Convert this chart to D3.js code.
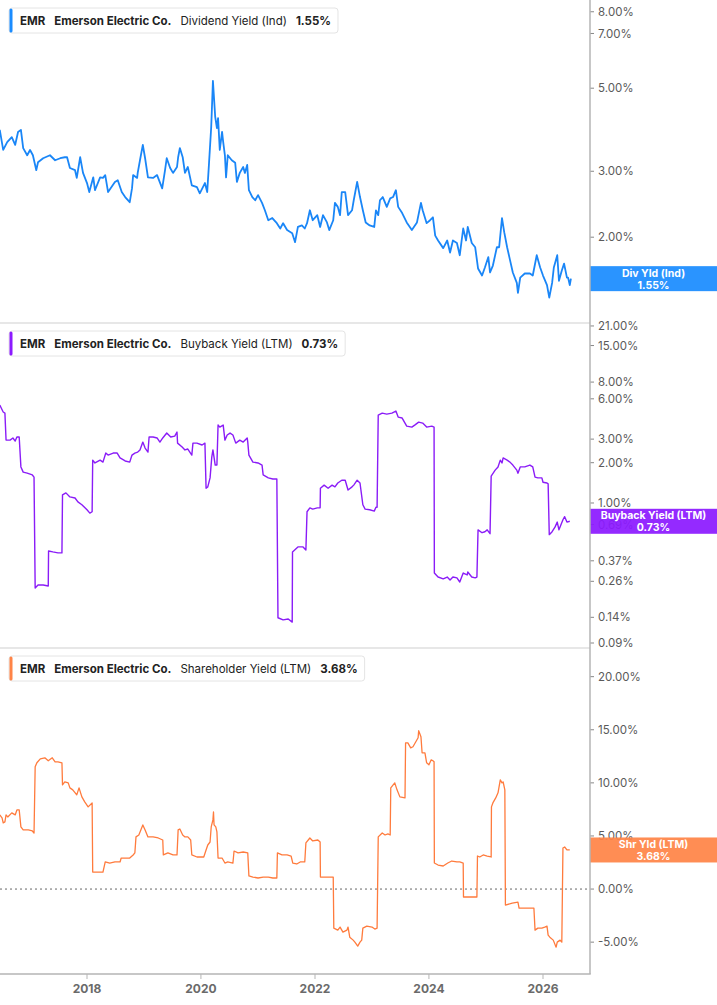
<!DOCTYPE html>
<html>
<head>
<meta charset="utf-8">
<script src="https://cdn.jsdelivr.net/npm/d3@7"></script>
<style>
body { margin: 0; background: #fff; }
svg { display: block; font-family: Inter, 'Noto Sans', sans-serif; }
</style>
</head>
<body>
<div id="chart"></div>
<script>
// [decimal year, value in %]
const divYield = [[2016.47,3.87],[2016.53,3.42],[2016.60,3.59],[2016.68,3.70],[2016.74,3.53],[2016.79,3.82],[2016.84,3.87],[2016.88,3.46],[2016.95,3.31],[2017.00,3.42],[2017.05,3.31],[2017.11,3.02],[2017.14,3.17],[2017.23,3.25],[2017.35,3.31],[2017.44,3.21],[2017.53,3.25],[2017.61,3.27],[2017.65,3.27],[2017.70,3.06],[2017.79,3.02],[2017.82,2.88],[2017.88,3.27],[2017.93,2.97],[2018.00,2.79],[2018.04,2.64],[2018.11,2.89],[2018.14,2.67],[2018.23,2.89],[2018.28,2.88],[2018.32,2.93],[2018.37,2.64],[2018.49,2.81],[2018.54,2.84],[2018.61,2.64],[2018.67,2.56],[2018.75,2.48],[2018.79,2.70],[2018.81,2.93],[2018.88,2.88],[2018.89,2.97],[2018.93,3.21],[2018.98,3.53],[2019.02,3.25],[2019.07,2.89],[2019.16,2.88],[2019.23,2.93],[2019.32,2.70],[2019.37,3.02],[2019.40,3.25],[2019.46,3.06],[2019.51,2.97],[2019.58,3.08],[2019.60,3.27],[2019.63,3.46],[2019.68,3.27],[2019.72,2.97],[2019.77,3.08],[2019.84,2.75],[2019.93,2.72],[2019.98,2.62],[2020.07,2.79],[2020.11,2.64],[2020.14,3.12],[2020.18,3.94],[2020.19,4.32],[2020.21,5.23],[2020.25,4.19],[2020.28,3.91],[2020.30,4.16],[2020.33,3.42],[2020.37,3.82],[2020.39,3.59],[2020.42,3.31],[2020.44,2.89],[2020.47,3.31],[2020.54,3.21],[2020.60,3.16],[2020.63,2.81],[2020.68,2.97],[2020.74,3.08],[2020.77,2.97],[2020.81,3.12],[2020.84,2.67],[2020.90,2.56],[2020.95,2.51],[2021.00,2.59],[2021.07,2.47],[2021.12,2.36],[2021.18,2.22],[2021.25,2.25],[2021.33,2.18],[2021.39,2.11],[2021.44,2.18],[2021.51,2.09],[2021.60,2.05],[2021.65,1.94],[2021.70,2.13],[2021.77,2.15],[2021.82,2.11],[2021.86,2.18],[2021.91,2.36],[2021.96,2.22],[2022.04,2.29],[2022.09,2.13],[2022.14,2.29],[2022.21,2.19],[2022.25,2.09],[2022.32,2.22],[2022.35,2.47],[2022.40,2.41],[2022.44,2.29],[2022.47,2.64],[2022.53,2.64],[2022.58,2.29],[2022.65,2.36],[2022.68,2.51],[2022.74,2.81],[2022.79,2.56],[2022.84,2.36],[2022.89,2.19],[2022.96,2.15],[2023.04,2.13],[2023.07,2.36],[2023.11,2.29],[2023.14,2.51],[2023.19,2.56],[2023.26,2.41],[2023.32,2.54],[2023.37,2.56],[2023.42,2.67],[2023.46,2.41],[2023.53,2.32],[2023.61,2.19],[2023.70,2.09],[2023.79,2.19],[2023.86,2.47],[2023.89,2.36],[2023.96,2.18],[2024.02,2.22],[2024.07,2.26],[2024.11,2.02],[2024.16,1.96],[2024.25,1.87],[2024.32,1.96],[2024.37,1.82],[2024.42,1.96],[2024.49,1.93],[2024.54,1.79],[2024.60,2.11],[2024.65,1.96],[2024.68,2.13],[2024.75,1.93],[2024.81,1.88],[2024.86,1.65],[2024.93,1.58],[2024.98,1.66],[2025.04,1.77],[2025.07,1.61],[2025.12,1.68],[2025.19,1.88],[2025.23,1.88],[2025.28,2.25],[2025.32,2.06],[2025.37,1.88],[2025.42,1.74],[2025.47,1.61],[2025.54,1.51],[2025.56,1.42],[2025.60,1.56],[2025.68,1.60],[2025.77,1.60],[2025.82,1.58],[2025.89,1.79],[2025.95,1.66],[2026.00,1.58],[2026.07,1.49],[2026.11,1.38],[2026.16,1.51],[2026.19,1.66],[2026.25,1.79],[2026.28,1.53],[2026.33,1.63],[2026.37,1.70],[2026.42,1.56],[2026.44,1.56],[2026.47,1.49],[2026.49,1.55]]

const buybackYield = [[2016.47,5.39],[2016.53,4.78],[2016.56,4.69],[2016.58,2.95],[2016.65,2.95],[2016.70,3.06],[2016.74,2.90],[2016.77,3.11],[2016.81,3.11],[2016.84,1.86],[2016.88,1.70],[2016.95,1.67],[2017.04,1.62],[2017.07,1.56],[2017.09,0.232],[2017.14,0.244],[2017.23,0.244],[2017.32,0.240],[2017.325,0.438],[2017.40,0.431],[2017.49,0.424],[2017.56,0.424],[2017.57,1.15],[2017.63,1.19],[2017.70,1.11],[2017.79,1.09],[2017.84,1.02],[2017.91,0.97],[2018.00,0.89],[2018.05,0.84],[2018.09,0.86],[2018.10,2.09],[2018.14,1.99],[2018.23,2.09],[2018.28,2.02],[2018.33,2.36],[2018.37,2.28],[2018.46,2.36],[2018.53,2.36],[2018.58,2.17],[2018.67,2.06],[2018.75,2.02],[2018.79,2.28],[2018.84,2.36],[2018.89,2.40],[2018.93,2.49],[2018.98,2.85],[2019.02,2.57],[2019.07,2.40],[2019.09,3.11],[2019.16,3.11],[2019.23,3.06],[2019.28,2.85],[2019.33,3.06],[2019.40,3.33],[2019.47,3.11],[2019.54,3.16],[2019.58,3.39],[2019.59,2.80],[2019.67,2.62],[2019.72,2.49],[2019.77,2.53],[2019.84,2.28],[2019.86,2.80],[2019.93,2.80],[2020.02,2.71],[2020.07,2.80],[2020.09,1.29],[2020.12,1.32],[2020.16,1.54],[2020.19,2.20],[2020.21,2.49],[2020.25,1.92],[2020.28,1.92],[2020.30,3.82],[2020.33,3.69],[2020.39,3.82],[2020.42,2.95],[2020.46,3.22],[2020.51,3.33],[2020.56,3.22],[2020.61,2.80],[2020.68,2.95],[2020.74,2.85],[2020.81,3.06],[2020.82,2.85],[2020.84,2.28],[2020.91,2.02],[2021.00,1.99],[2021.07,1.92],[2021.09,1.62],[2021.18,1.54],[2021.26,1.51],[2021.33,1.51],[2021.35,0.139],[2021.44,0.134],[2021.53,0.136],[2021.60,0.129],[2021.605,0.431],[2021.70,0.470],[2021.79,0.470],[2021.84,0.446],[2021.86,0.86],[2021.91,0.92],[2021.96,0.90],[2022.04,0.92],[2022.09,0.92],[2022.095,1.29],[2022.16,1.36],[2022.23,1.29],[2022.30,1.36],[2022.35,1.32],[2022.40,1.41],[2022.47,1.48],[2022.53,1.48],[2022.58,1.25],[2022.65,1.32],[2022.68,1.36],[2022.74,1.48],[2022.79,1.41],[2022.84,0.97],[2022.88,0.90],[2022.96,0.89],[2023.04,0.87],[2023.07,0.93],[2023.09,0.93],[2023.11,4.54],[2023.18,4.69],[2023.26,4.61],[2023.35,4.69],[2023.42,4.86],[2023.46,4.38],[2023.53,4.31],[2023.58,3.95],[2023.61,3.75],[2023.70,3.69],[2023.75,3.82],[2023.82,4.02],[2023.89,3.95],[2023.96,3.69],[2024.05,3.75],[2024.09,3.69],[2024.095,0.300],[2024.16,0.280],[2024.25,0.271],[2024.32,0.280],[2024.37,0.266],[2024.42,0.280],[2024.49,0.276],[2024.54,0.257],[2024.60,0.300],[2024.67,0.290],[2024.68,0.305],[2024.75,0.280],[2024.81,0.276],[2024.84,0.280],[2024.86,0.63],[2024.93,0.60],[2024.98,0.61],[2025.02,0.63],[2025.07,0.59],[2025.09,1.59],[2025.16,1.76],[2025.21,1.86],[2025.25,2.09],[2025.28,1.99],[2025.30,2.17],[2025.37,2.09],[2025.42,2.02],[2025.47,1.92],[2025.54,1.76],[2025.56,1.67],[2025.60,1.86],[2025.68,1.86],[2025.77,1.92],[2025.82,1.86],[2025.86,1.56],[2025.91,1.54],[2025.98,1.54],[2026.00,1.43],[2026.07,1.41],[2026.09,1.39],[2026.11,0.58],[2026.16,0.61],[2026.21,0.66],[2026.25,0.72],[2026.28,0.63],[2026.35,0.75],[2026.38,0.79],[2026.42,0.72],[2026.47,0.73]]

const shareholderYield = [[2016.47,6.98],[2016.51,6.70],[2016.53,6.23],[2016.56,6.32],[2016.58,6.98],[2016.61,6.79],[2016.68,7.17],[2016.74,6.98],[2016.77,7.45],[2016.81,7.45],[2016.84,5.85],[2016.88,5.57],[2016.97,5.57],[2017.04,5.47],[2017.07,5.28],[2017.09,11.51],[2017.12,11.89],[2017.18,12.26],[2017.26,12.36],[2017.32,12.08],[2017.39,12.36],[2017.44,11.98],[2017.49,11.98],[2017.56,11.89],[2017.57,9.81],[2017.61,10.09],[2017.67,10.00],[2017.70,9.53],[2017.75,9.34],[2017.82,8.87],[2017.86,9.53],[2017.91,8.68],[2017.96,8.21],[2018.02,7.74],[2018.09,8.11],[2018.10,1.60],[2018.18,1.60],[2018.28,1.60],[2018.32,2.55],[2018.40,2.45],[2018.49,2.55],[2018.58,2.55],[2018.60,2.92],[2018.67,2.92],[2018.75,2.92],[2018.81,3.21],[2018.84,3.40],[2018.86,4.91],[2018.91,5.09],[2018.98,6.04],[2019.02,5.57],[2019.07,4.91],[2019.16,4.91],[2019.25,4.81],[2019.33,4.62],[2019.34,3.21],[2019.42,3.40],[2019.51,3.21],[2019.58,3.21],[2019.60,5.57],[2019.63,5.66],[2019.68,5.09],[2019.72,4.91],[2019.77,4.91],[2019.82,4.62],[2019.84,3.21],[2019.93,3.02],[2020.05,3.02],[2020.09,3.68],[2020.12,4.15],[2020.16,4.43],[2020.18,5.85],[2020.21,6.51],[2020.22,7.26],[2020.23,6.04],[2020.26,5.85],[2020.28,5.38],[2020.30,2.92],[2020.37,2.92],[2020.42,2.45],[2020.47,2.55],[2020.56,2.45],[2020.58,3.58],[2020.65,3.40],[2020.74,3.49],[2020.82,3.40],[2020.84,1.23],[2020.91,1.13],[2021.00,1.04],[2021.09,1.13],[2021.18,1.13],[2021.26,1.04],[2021.33,1.04],[2021.34,3.40],[2021.42,3.21],[2021.51,3.21],[2021.58,3.11],[2021.61,2.45],[2021.68,2.36],[2021.74,2.55],[2021.82,2.55],[2021.84,4.34],[2021.91,4.81],[2021.96,4.53],[2022.05,4.62],[2022.09,4.43],[2022.095,1.13],[2022.21,1.13],[2022.32,1.13],[2022.33,-3.68],[2022.40,-3.87],[2022.44,-3.58],[2022.49,-4.06],[2022.56,-3.87],[2022.58,-3.58],[2022.61,-4.53],[2022.67,-4.81],[2022.70,-5.00],[2022.75,-5.38],[2022.79,-5.00],[2022.82,-4.81],[2022.84,-3.68],[2022.91,-3.49],[2023.00,-3.58],[2023.05,-3.77],[2023.09,-3.68],[2023.11,4.91],[2023.18,5.28],[2023.23,5.09],[2023.28,5.19],[2023.32,5.09],[2023.33,9.53],[2023.40,10.00],[2023.44,9.34],[2023.49,8.68],[2023.58,8.58],[2023.59,13.77],[2023.63,13.77],[2023.68,13.30],[2023.72,13.40],[2023.77,13.87],[2023.81,14.25],[2023.82,14.91],[2023.86,14.34],[2023.88,12.83],[2023.93,12.83],[2023.96,11.89],[2024.00,11.70],[2024.04,12.17],[2024.07,12.08],[2024.09,11.98],[2024.095,2.45],[2024.16,2.26],[2024.25,2.17],[2024.33,2.45],[2024.40,2.64],[2024.49,2.55],[2024.54,2.55],[2024.60,2.45],[2024.605,-0.75],[2024.72,-0.75],[2024.84,-0.75],[2024.85,3.11],[2024.89,3.02],[2024.95,3.21],[2025.02,3.11],[2025.09,3.02],[2025.095,7.74],[2025.12,8.11],[2025.17,8.58],[2025.21,9.06],[2025.25,10.28],[2025.28,10.00],[2025.30,10.09],[2025.33,9.34],[2025.34,-1.51],[2025.46,-1.32],[2025.56,-1.23],[2025.58,-1.79],[2025.72,-1.79],[2025.84,-1.79],[2025.86,-3.87],[2025.91,-3.68],[2025.98,-3.68],[2026.03,-3.58],[2026.07,-3.49],[2026.09,-4.34],[2026.12,-4.53],[2026.18,-4.81],[2026.23,-5.47],[2026.25,-5.00],[2026.30,-4.81],[2026.33,-5.00],[2026.35,3.87],[2026.38,3.96],[2026.42,3.68],[2026.47,3.68]]

const divTicks = [8, 7, 5, 3, 2]
const buybackTicks = [21, 15, 8, 6, 3, 2, 1, 0.69, 0.37, 0.26, 0.14, 0.09]
const shareholderTicks = [20, 15, 10, 5, 0, -5]
const yearTicks = [2018, 2020, 2022, 2024, 2026]

const ticker = 'EMR'
const company = 'Emerson Electric Co.'
const metrics = ['Dividend Yield (Ind)', 'Buyback Yield (LTM)', 'Shareholder Yield (LTM)']
const shortNames = ['Div Yld (Ind)', 'Buyback Yield (LTM)', 'Shr Yld (LTM)']

const W = 717, H = 1005
const plotR = 590

const toDate = t => {
	let y = Math.floor(t)
	let s = Date.UTC(y, 0, 1), e = Date.UTC(y + 1, 0, 1)
	return new Date(s + (t - y) * (e - s))
}

const x = d3.scaleUtc()
.domain([toDate(2016.474), toDate(2026.825)])
.range([0, plotR])

const panels = [
	{ data: divYield, ticks: divTicks, top: 0, bottom: 323, y: d3.scaleLog().domain([1.18, 8.6]), color: '#1a8cff', line: '#1a86f7', lw: 1.8 },
	{ data: buybackYield, ticks: buybackTicks, top: 323, bottom: 648, y: d3.scaleLog().domain([0.0826, 22.1]), color: '#8c1aff', line: '#8a1cf7', lw: 1.4 },
	{ data: shareholderYield, ticks: shareholderTicks, top: 648, bottom: 974, y: d3.scaleLinear().domain([-8.0, 22.7]), color: '#ff8447', line: '#ff7b3d', lw: 1.3 }
]

const fmt = v => v.toFixed(2) + '%'

const svg = d3.select('#chart')
.append('svg')
.attr('width', W)
.attr('height', H)

const defs = svg.append('defs')

panels.forEach((p, i) => {

	p.y.range([p.bottom, p.top])

	defs.append('clipPath')
	.attr('id', 'clip' + i)
	.append('rect')
	.attr('x', 0)
	.attr('y', p.top)
	.attr('width', plotR)
	.attr('height', p.bottom - p.top)

	let g = svg.append('g')

	if (i > 0) {
		g.append('line')
		.attr('x1', 0).attr('x2', plotR)
		.attr('y1', p.top).attr('y2', p.top)
		.attr('stroke', '#cfcfcf')
		.attr('stroke-width', 1)
	}

	if (i == 2) {
		g.append('line')
		.attr('x1', 0).attr('x2', plotR)
		.attr('y1', p.y(0)).attr('y2', p.y(0))
		.attr('stroke', '#666')
		.attr('stroke-width', 1)
		.attr('stroke-dasharray', '2,3')
	}

	const line = d3.line()
	.x(d => x(toDate(d[0])))
	.y(d => p.y(d[1]))

	g.append('path')
	.datum(p.data)
	.attr('clip-path', `url(#clip${i})`)
	.attr('fill', 'none')
	.attr('stroke', p.line)
	.attr('stroke-width', p.lw)
	.attr('stroke-linejoin', 'round')
	.attr('d', line)

	// right axis ticks
	let tk = g.selectAll('.tk')
	.data(p.ticks)
	.join('g')
	.attr('transform', d => `translate(${plotR},${p.y(d)})`)

	tk.append('line')
	.attr('x1', 0).attr('x2', 4)
	.attr('stroke', '#888')

	tk.append('text')
	.attr('x', 8)
	.attr('dy', '0.35em')
	.attr('font-size', 11.5)
	.attr('fill', '#5a5a5a')
	.text(fmt)

	// legend box
	let leg = g.append('g')
	.attr('transform', `translate(9,${p.top + 8})`)

	let box = leg.append('rect')
	.attr('y', 0)
	.attr('height', 25)
	.attr('rx', 3)
	.attr('fill', '#fff')
	.attr('stroke', '#e4e4e4')

	leg.append('rect')
	.attr('x', 0.5)
	.attr('y', 0.5)
	.attr('width', 3)
	.attr('height', 24)
	.attr('rx', 1.5)
	.attr('fill', p.color)

	let last = p.data[p.data.length - 1][1]
	let parts = [[ticker, 700], [company, 700], [metrics[i], 400], [fmt(last), 700]]
	let cx = 11
	parts.forEach(pt => {
		let t = leg.append('text')
		.attr('x', cx)
		.attr('y', 17)
		.attr('font-size', 11.5)
		.attr('font-weight', pt[1])
		.attr('fill', '#222')
		.text(pt[0])
		cx += t.node().getComputedTextLength() + 9
	})
	box.attr('width', cx - 2)

	// last value tag
	let ly = p.y(last)
	let tag = g.append('g')
	.attr('transform', `translate(${plotR},${ly - 12.5})`)

	tag.append('rect')
	.attr('width', W - plotR)
	.attr('height', 25)
	.attr('fill', p.color)
	.attr('fill-opacity', 0.93)

	tag.append('text')
	.attr('x', (W - plotR) / 2)
	.attr('y', 10.5)
	.attr('text-anchor', 'middle')
	.attr('font-size', 10.5)
	.attr('font-weight', 700)
	.attr('fill', '#fff')
	.text(shortNames[i])

	tag.append('text')
	.attr('x', (W - plotR) / 2)
	.attr('y', 22.5)
	.attr('text-anchor', 'middle')
	.attr('font-size', 10.5)
	.attr('font-weight', 700)
	.attr('fill', '#fff')
	.text(fmt(last))
})

// axis frame
svg.append('line')
.attr('x1', plotR).attr('x2', plotR)
.attr('y1', 0).attr('y2', 974)
.attr('stroke', '#b5b5b5')
.attr('stroke-width', 1.5)

svg.append('line')
.attr('x1', 0).attr('x2', plotR + 0.75)
.attr('y1', 974).attr('y2', 974)
.attr('stroke', '#b5b5b5')
.attr('stroke-width', 1.5)

let xt = svg.selectAll('.xt')
.data(yearTicks)
.join('g')
.attr('transform', d => `translate(${x(toDate(d))},974)`)

xt.append('line')
.attr('y1', 0).attr('y2', 5)
.attr('stroke', '#b5b5b5')

xt.append('text')
.attr('y', 19)
.attr('text-anchor', 'middle')
.attr('font-size', 12)
.attr('font-weight', 700)
.attr('fill', '#6a6a6a')
.text(d => d)
</script>
</body>
</html>
